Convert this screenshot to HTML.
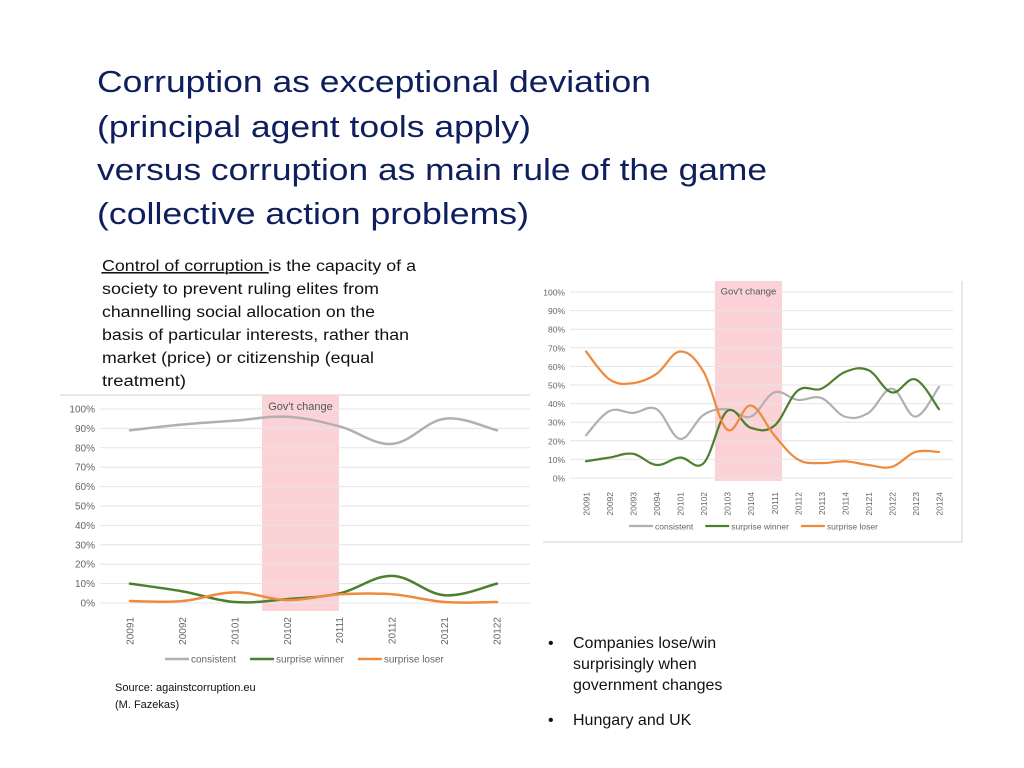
<!DOCTYPE html>
<html><head><meta charset="utf-8"><style>
html,body{margin:0;padding:0;background:#fff;}
svg{display:block;font-family:"Liberation Sans",sans-serif;}
</style></head><body>
<svg id="page" width="1024" height="768" viewBox="0 0 1024 768">
<g fill="#0f1f5e" font-size="31">
<text x="97" y="92" textLength="554" lengthAdjust="spacingAndGlyphs">Corruption as exceptional deviation</text>
<text x="97" y="137" textLength="434" lengthAdjust="spacingAndGlyphs">(principal agent tools apply)</text>
<text x="97" y="180" textLength="670" lengthAdjust="spacingAndGlyphs">versus corruption as main rule of the game</text>
<text x="97" y="224" textLength="432" lengthAdjust="spacingAndGlyphs">(collective action problems)</text>
</g>
<g fill="#111" font-size="15.5">
<text x="102" y="271" textLength="314" lengthAdjust="spacingAndGlyphs"><tspan text-decoration="underline">Control of corruption </tspan>is the capacity of a</text>
<text x="102" y="294" textLength="277" lengthAdjust="spacingAndGlyphs">society to prevent ruling elites from</text>
<text x="102" y="317" textLength="273" lengthAdjust="spacingAndGlyphs">channelling social allocation on the</text>
<text x="102" y="340" textLength="307" lengthAdjust="spacingAndGlyphs">basis of particular interests, rather than</text>
<text x="102" y="363" textLength="272" lengthAdjust="spacingAndGlyphs">market (price) or citizenship (equal</text>
<text x="102" y="386" textLength="84" lengthAdjust="spacingAndGlyphs">treatment)</text>
</g>
<line x1="101" y1="273" x2="269" y2="273" stroke="#111" stroke-width="1"/>
<g fill="#111" font-size="11">
<text x="115" y="691">Source: againstcorruption.eu</text>
<text x="115" y="708">(M. Fazekas)</text>
</g>
<g fill="#111" font-size="16">
<text x="548" y="648">•</text><text x="573" y="648">Companies lose/win</text>
<text x="573" y="669">surprisingly when</text>
<text x="573" y="690">government changes</text>
<text x="548" y="725">•</text><text x="573" y="725">Hungary and UK</text>
</g>
<g id="chartL"></g>
<g id="chartR"></g>
</svg>
<script>
// Left chart (UK)
const catsL = ["20091","20092","20101","20102","20111","20112","20121","20122"];
const consistentL = [89,92,94,96,91,82,95,89];
const winnerL = [10,6,0.5,2,5,14,4,10];
const loserL = [1,1,5.5,1.5,4.5,4.5,0.5,0.5];
// Right chart (Hungary)
const catsR = ["20091","20092","20093","20094","20101","20102","20103","20104","20111","20112","20113","20114","20121","20122","20123","20124"];
const consistentR = [23,36,35,37,21,34,37,33,46,42,43,33,35,48,33,49];
const winnerR = [9,11,13,7,11,8,36,27,28,47,48,57,58,46,53,37];
const loserR = [68,53,51,56,68,57,26,39,23,10,8,9,7,6,14,14];
const yTicks = [0,10,20,30,40,50,60,70,80,90,100];

const NS="http://www.w3.org/2000/svg";
function mk(parent,tag,attrs,txt){const e=document.createElementNS(NS,tag);for(const k in attrs)e.setAttribute(k,attrs[k]);if(txt!==undefined)e.textContent=txt;parent.appendChild(e);return e;}
function smooth(pts){let d="M"+pts[0][0]+","+pts[0][1];for(let i=0;i<pts.length-1;i++){const p0=pts[Math.max(0,i-1)],p1=pts[i],p2=pts[i+1],p3=pts[Math.min(pts.length-1,i+2)];const t=0.18*1;const c1=[p1[0]+(p2[0]-p0[0])*t,p1[1]+(p2[1]-p0[1])*t];const c2=[p2[0]-(p3[0]-p1[0])*t,p2[1]-(p3[1]-p1[1])*t];d+=" C"+c1[0]+","+c1[1]+" "+c2[0]+","+c2[1]+" "+p2[0]+","+p2[1];}return d;}

function chart(g,cfg){
  const y=v=>cfg.y0-(cfg.y0-cfg.y100)*v/100;
  const x=i=>cfg.x0+i*(cfg.x1-cfg.x0)/(cfg.cats.length-1);
  const band=mk(g,"rect",{x:cfg.bx0,y:cfg.by0,width:cfg.bx1-cfg.bx0,height:cfg.by1-cfg.by0,fill:"#fbd3d7"});
  
  
  yTicks.forEach(t=>{
    const gl=mk(g,"line",{x1:cfg.gx0,x2:cfg.gx1,y1:y(t),y2:y(t),stroke:"#e4e4e4","stroke-width":1});
    
    
    const tl=mk(g,"text",{x:cfg.gx0-5,y:y(t)+3.5,"text-anchor":"end","font-size":cfg.fs,fill:"#666"},t+"%");
    
    
  });
  const bt=mk(g,"text",{x:(cfg.bx0+cfg.bx1)/2,y:cfg.by0+cfg.fs+5,"text-anchor":"middle","font-size":cfg.fs+1,fill:"#555"},"Gov't change");
  
  
  cfg.cats.forEach((c,i)=>{
    const tx=mk(g,"text",{transform:"translate("+(x(i)+3.5)+","+(cfg.y0+14)+") rotate(-90)","text-anchor":"end","font-size":cfg.fs,fill:"#666"},c);
    
    
  });
  const series=[["consistent",cfg.s[0],"#b0b0b0"],["surprise winner",cfg.s[1],"#4e7f2e"],["surprise loser",cfg.s[2],"#ef8a3c"]];
  series.forEach(s=>{
    const p=mk(g,"path",{d:smooth(s[1].map((v,i)=>[x(i),y(v)])),fill:"none",stroke:s[2],"stroke-width":cfg.lw,"stroke-linecap":"round"});
    
    
  });
  let lx=cfg.lx;
  series.forEach(s=>{
    const le=mk(g,"g",{});
    
    
    mk(le,"line",{x1:lx,x2:lx+24,y1:cfg.ly,y2:cfg.ly,stroke:s[2],"stroke-width":cfg.lw});
    const t=mk(le,"text",{x:lx+26,y:cfg.ly+3.5,"font-size":cfg.fs,fill:"#666"},s[0]);
    lx+=26+t.getComputedTextLength()+cfg.lgap;
  });
}
const gL=document.getElementById("chartL");
mk(gL,"line",{x1:60,x2:530,y1:395,y2:395,stroke:"#d0d0d0"});
chart(gL,{cats:catsL,s:[consistentL,winnerL,loserL],x0:130,x1:497,y0:603,y100:409,gx0:100,gx1:530,bx0:262,bx1:339,by0:395,by1:611,fs:10,lw:2.5,lx:165,ly:659,lgap:14});
const gR=document.getElementById("chartR");
mk(gR,"polyline",{points:"543,542 962,542 962,281",fill:"none",stroke:"#d0d0d0"});
chart(gR,{cats:catsR,s:[consistentR,winnerR,loserR],x0:586,x1:939,y0:478,y100:292,gx0:570,gx1:953,bx0:715,bx1:782,by0:281,by1:481,fs:8.5,lw:2.2,lx:629,ly:526,lgap:12});
</script>
</body></html>
